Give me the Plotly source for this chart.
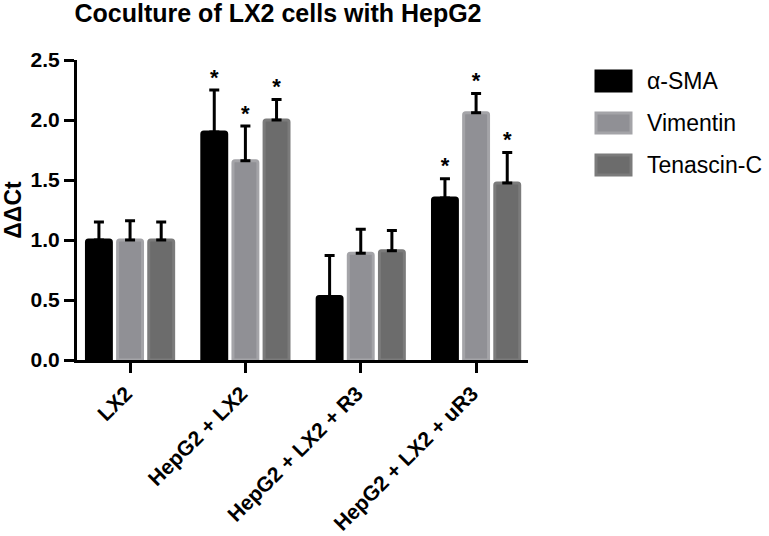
import plotly.graph_objects as go

categories = ["LX2", "HepG2 + LX2", "HepG2 + LX2 + R3", "HepG2 + LX2 + uR3"]
series_names = ["α-SMA", "Vimentin", "Tenascin-C"]
asma = [1.00, 1.90, 0.53, 1.35]
asma_err = [0.15, 0.35, 0.34, 0.16]
vimentin = [1.00, 1.66, 0.89, 2.06]
vimentin_err = [0.16, 0.29, 0.20, 0.16]
tenascin = [1.00, 2.00, 0.91, 1.475]
tenascin_err = [0.15, 0.17, 0.17, 0.255]
asma_sig = ["", "*", "", "*"]
vimentin_sig = ["", "*", "", "*"]
tenascin_sig = ["", "*", "", "*"]
y_ticks = [0.0, 0.5, 1.0, 1.5, 2.0, 2.5]

values = [asma, vimentin, tenascin]
errors = [asma_err, vimentin_err, tenascin_err]
sigs = [asma_sig, vimentin_sig, tenascin_sig]
fills = ["#000000", "#909095", "#6c6c6c"]
borders = ["#000000", "#a4a4a8", "#7b7b7b"]

FONT = "Liberation Sans, Arial, Helvetica, sans-serif"

fig = go.Figure()
for i, name in enumerate(series_names):
    fig.add_trace(go.Bar(
        x=categories, y=values[i], name=name,
        offsetgroup=str(i),
        marker=dict(color=fills[i], line=dict(color=borders[i], width=3), cornerradius=2),
        error_y=dict(type="data", array=errors[i], arrayminus=[0] * len(errors[i]),
                     symmetric=False, color="black", thickness=3, width=5),
        showlegend=False,
    ))
for i, name in enumerate(series_names):
    tops = [v + e for v, e in zip(values[i], errors[i])]
    fig.add_trace(go.Scatter(
        x=categories, y=tops, mode="text", text=sigs[i],
        textposition="top center", offsetgroup=str(i),
        textfont=dict(family=FONT, size=22, color="black", weight="bold"),
        showlegend=False, hoverinfo="skip", cliponaxis=False,
    ))

# plot area in pixels
L, R, T, B = 77, 528, 60, 360
W, H = 769, 536

def px_x(px):
    return (px - L) / (R - L)

def px_y(py):
    return (B - py) / (B - T)

shapes = []
annotations = []
legend_centers = [81, 123, 165]
for i, name in enumerate(series_names):
    cy = legend_centers[i]
    shapes.append(dict(type="rect", xref="paper", yref="paper",
                       x0=px_x(596), x1=px_x(631), y0=px_y(cy + 10), y1=px_y(cy - 10),
                       fillcolor=fills[i], line=dict(color=borders[i], width=3)))
    annotations.append(dict(xref="paper", yref="paper", x=px_x(645), y=px_y(cy),
                            text=name, showarrow=False, xanchor="left", yanchor="middle",
                            font=dict(family=FONT, size=23, color="black")))

fig.update_layout(
    width=W, height=H,
    margin=dict(l=L, r=W - R, t=T, b=H - B, pad=0, autoexpand=False),
    paper_bgcolor="white", plot_bgcolor="white",
    barmode="group", bargap=0.19, bargroupgap=0.2,
    scattermode="group", scattergap=0.19,
    title=dict(text="Coculture of LX2 cells with HepG2", x=278 / W, xanchor="center",
               y=1 - 13 / H, yanchor="middle", xref="container", yref="container",
               font=dict(family=FONT, size=25, color="black", weight="bold")),
    xaxis=dict(range=[-0.46, 3.45], showline=True, linecolor="black", linewidth=3,
               ticks="outside", ticklen=10, tickwidth=3, tickcolor="black",
               tickangle=-45, showgrid=False, zeroline=False, automargin=False,
               ticklabelshift=-4,
               tickfont=dict(family=FONT, size=21, color="black", weight="bold")),
    yaxis=dict(range=[0, 2.5], tickvals=y_ticks, ticktext=[f"{v:.1f}" for v in y_ticks],
               showline=True, linecolor="black", linewidth=3,
               ticks="outside", ticklen=10, tickwidth=3, tickcolor="black",
               showgrid=False, zeroline=False, automargin=False,
               tickfont=dict(family=FONT, size=21, color="black", weight="bold"),
               title=dict(text="ΔΔCt", standoff=6,
                          font=dict(family=FONT, size=23, color="black", weight="bold"))),
    shapes=shapes, annotations=annotations,
    showlegend=False,
)

fig.write_html("out.html", config={"displayModeBar": False},
               post_script="document.body.style.margin='0';")
